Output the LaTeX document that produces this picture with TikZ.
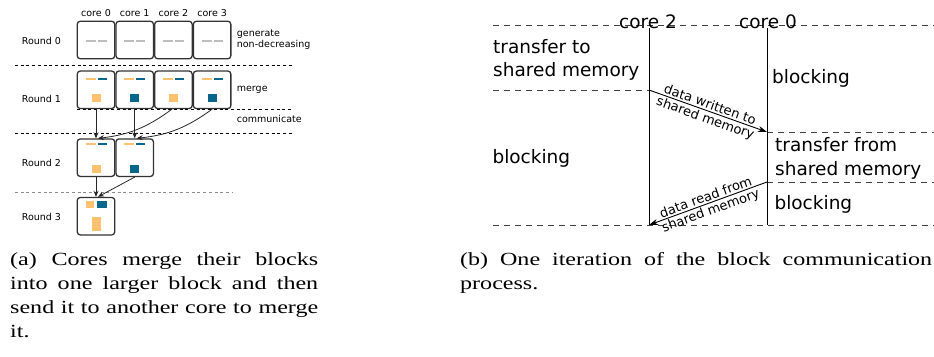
\documentclass[tikz,border=0pt]{standalone}
\usepackage{fontspec}
\setsansfont{DejaVu Sans}
\newfontfamily\capfont[FakeStretch=1.3]{Liberation Serif}
\usetikzlibrary{arrows.meta}
\definecolor{blkorange}{HTML}{FDC16F}
\definecolor{blkblue}{HTML}{08668A}
\definecolor{blkgray}{HTML}{BDBDBD}
\definecolor{boxgray}{HTML}{333333}
\tikzset{
  corebox/.style={draw=boxgray, line width=1.3pt, rounded corners=3pt, fill=white,
    minimum width=37.5pt, minimum height=37.5pt, inner sep=0pt},
  small/.style={font=\sffamily\fontsize{9.5}{11}\selectfont, inner sep=0pt, align=left},
  big/.style={font=\sffamily\fontsize{18.5}{23.4}\selectfont, inner sep=0pt, align=left},
  msglbl/.style={font=\sffamily\fontsize{13}{15}\selectfont, inner sep=1.5pt},
  capt/.style={font=\capfont\fontsize{18.5}{24}\selectfont, inner sep=0pt, align=justify},
  leftsep/.style={dash pattern=on 3pt off 2.7pt, line width=0.8pt},
  rightsep/.style={dash pattern=on 6pt off 5pt, line width=0.9pt, draw=black!75},
  blkmark/.style={line width=1.8pt},
  send/.style={-{Stealth[length=6pt, width=5pt]}, line width=0.8pt, draw=black!85},
  msg/.style={-{Stealth[length=9pt, width=6pt]}, line width=0.9pt},
}
\begin{document}
\begin{tikzpicture}[x=1pt, y=-1pt, >=stealth]
\useasboundingbox (0,0) rectangle (934,356);

% (a) merging rounds
\draw[leftsep] (15,65) -- (293,65);
\draw[leftsep] (77,109.3) -- (293,109.3);
\draw[leftsep] (15,133) -- (293,133);
\draw[leftsep, draw=black!45] (15,192) -- (232,192);

\node[small, anchor=base west] (round0) at (21.7,44.3) {Round 0};
\node[small, anchor=base west] (round1) at (21.7,102.7) {Round 1};
\node[small, anchor=base west] (round2) at (21.7,166) {Round 2};
\node[small, anchor=base west] (round3) at (21.7,220) {Round 3};
\node[small, anchor=base west] (gen) at (236.7,47.7) {generate\\non-decreasing};
\node[small, anchor=base west] (mrg) at (236.7,91) {merge};
\node[small, anchor=base west] (comm) at (236.7,122.5) {communicate};

\foreach \i/\col in {0/blkorange, 1/blkblue, 2/blkorange, 3/blkblue}
{
    \pgfmathsetmacro{\cx}{96+38.7*\i}
    \node[small, anchor=base] (core\i) at (\cx,16.3) {core \i};
    \node[corebox] (r0c\i) at (\cx,40) {};
    \node[corebox] (r1c\i) at (\cx,89.8) {};
    \draw[blkmark, blkgray] (\cx-10.5,41) -- (\cx-0.5,41) (\cx+1.5,41) -- (\cx+10.5,41);
    \draw[blkmark, blkorange] (\cx-10.5,79.3) -- (\cx-0.5,79.3);
    \draw[blkmark, blkblue] (\cx+1.5,79.3) -- (\cx+10.5,79.3);
    \fill[\col] (\cx-4.5,94.3) rectangle (\cx+4.7,102.3);
}
\foreach \i/\col in {0/blkorange, 1/blkblue}
{
    \pgfmathsetmacro{\cx}{96+38.7*\i}
    \node[corebox] (r2c\i) at (\cx,157.7) {};
    \draw[blkmark, blkorange] (\cx-10.5,144.3) -- (\cx-0.5,144.3);
    \draw[blkmark, blkblue] (\cx+1.5,144.3) -- (\cx+10.5,144.3);
    \fill[\col] (\cx-4.5,165) rectangle (\cx+4.7,172.7);
}
\node[corebox] (r3c0) at (96,216.2) {};
\fill[blkorange] (85.7,200.7) rectangle (94.3,208.3);
\fill[blkblue] (97.3,200.7) rectangle (106.7,208.3);
\fill[blkorange] (91.7,217.3) rectangle (101,231);

\draw[send] (r1c0.south) -- (r2c0.north);
\draw[send] (r1c1.south) -- (r2c1.north);
\draw[send] ([xshift=-1.5pt]r1c2.south) to[bend left=15] ([xshift=2pt]r2c0.north);
\draw[send] (r1c3.south) to[bend left=15] ([xshift=2pt]r2c1.north);
\draw[send] (r2c0.south) -- (r3c0.north);
\draw[send] (r2c1.south) -- ([xshift=2pt]r3c0.north);

% (b) one iteration
\coordinate (l2top) at (649,28);
\coordinate (l2bot) at (649,225);
\coordinate (l0top) at (767,28);
\coordinate (l0bot) at (767,225);
\coordinate (w0) at (649,90);
\coordinate (w1) at (767,132);
\coordinate (r0) at (767,182);
\coordinate (r1) at (649,225);

\draw[rightsep] (493,25) -- (934,25);
\draw[rightsep] (493,90) -- (w0);
\draw[rightsep] (w1) -- (934,132);
\draw[rightsep] (r0) -- (934,182);
\draw[rightsep] (493,225) -- (934,225);

\node[big, anchor=base] (c2) at (648,28) {core 2};
\node[big, anchor=base] (c0) at (768,28) {core 0};
\draw[line width=0.9pt] (l2top) -- (l2bot);
\draw[line width=0.9pt] (l0top) -- (l0bot);

\node[big, anchor=base west] (sendtxt) at (493,76.7) {transfer to\\shared memory};
\node[big, anchor=base west] (wait0) at (772,83.3) {blocking};
\node[big, anchor=base west] (wait2) at (492.3,163.3) {blocking};
\node[big, anchor=base west] (recvtxt) at (775,175) {transfer from\\shared memory};
\node[big, anchor=base west] (wait0b) at (774.3,209.3) {blocking};

\draw[msg] (w0) -- (w1)
    node[midway, sloped, above, msglbl] {data written to}
    node[midway, sloped, below, msglbl] {shared memory};
\draw[msg] (r0) -- (r1)
    node[midway, sloped, above, msglbl] {data read from}
    node[midway, sloped, below, msglbl] {shared memory};

% captions
\node[capt, text width=308pt, anchor=base west] (capa) at (10,265)
    {(a) Cores merge their blocks\linebreak into one larger block and then\linebreak send it to another core to merge\linebreak it.};
\node[capt, text width=472pt, anchor=base west] (capb) at (460,265)
    {(b) One iteration of the block communication\linebreak process.};
\end{tikzpicture}
\end{document}
